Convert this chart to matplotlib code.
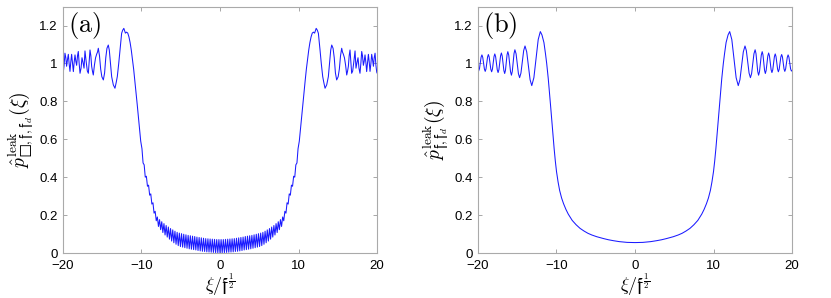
import numpy as np
from matplotlib import pyplot as plt

plt.rcParams['mathtext.fontset'] = 'cm'
plt.rcParams['font.family'] = ['Liberation Sans', 'DejaVu Sans']

# ---- panel (a): left half (curve is symmetric) ----
a_edge_x = [-20.0, -19.96, -19.86, -19.75, -19.64, -19.54, -19.43, -19.32, -19.22,
            -19.11, -19.0, -18.9, -18.79, -18.68, -18.58, -18.47, -18.36, -18.26,
            -18.15, -18.05, -17.94, -17.83, -17.7, -17.58, -17.45, -17.32, -17.26,
            -17.2, -17.05, -16.9, -16.77, -16.66, -16.56, -16.45, -16.35, -16.25,
            -16.14, -16.0, -15.85, -15.7, -15.6, -15.5, -15.35, -15.2, -15.05,
            -14.86, -14.7, -14.55, -14.4, -14.23, -14.1, -13.95, -13.8, -13.59,
            -13.38, -13.22, -13.08,
            -12.9, -12.74, -12.65, -12.53, -12.4, -12.25, -12.05, -11.9, -11.75,
            -11.6, -11.45, -11.3, -11.15, -11.0, -10.85, -10.7, -10.55, -10.4,
            -10.25, -10.1, -9.94, -9.80, -9.66, -9.52, -9.38, -9.24, -9.10, -8.96,
            -8.82, -8.68, -8.54, -8.40, -8.26, -8.12]
a_edge_y = [0.950, 0.955, 0.990, 1.054, 1.030, 0.985, 1.020, 1.048, 1.000,
            0.958, 1.010, 1.048, 1.000, 0.957, 1.005, 1.045, 1.010, 0.990,
            1.040, 1.063, 1.000, 0.948, 0.975, 1.030, 1.005, 0.975, 1.020,
            1.066, 1.010, 0.960, 0.948, 1.010, 1.071, 1.040, 0.985, 0.960,
            0.939, 0.990, 1.030, 1.050, 1.060, 1.080, 1.040, 0.970, 0.930,
            0.913, 0.950, 1.030, 1.080, 1.097, 1.070, 1.000, 0.930, 0.887,
            0.869, 0.900, 0.931,
            1.0, 1.071, 1.11, 1.159, 1.175, 1.185, 1.16, 1.165, 1.16,
            1.14, 1.11, 1.07, 1.02, 0.97, 0.91, 0.85, 0.785, 0.72,
            0.655, 0.59, 0.55, 0.475, 0.465, 0.40, 0.405, 0.352, 0.358, 0.305,
            0.312, 0.258, 0.265, 0.21, 0.22, 0.17]
# fast ripple in the trough, centre outwards (minimum at 0)
ripple_step = 0.28
trough_lo = [0.001, 0.001, 0.002, 0.003, 0.004, 0.005, 0.006, 0.008, 0.009, 0.011,
             0.013, 0.016, 0.018, 0.020, 0.022, 0.025, 0.028, 0.031, 0.034, 0.039,
             0.046, 0.054, 0.063, 0.073, 0.084, 0.095, 0.108, 0.123, 0.140]
trough_hi = [0.071, 0.071, 0.072, 0.073, 0.074, 0.075, 0.076, 0.078, 0.080, 0.082,
             0.084, 0.087, 0.089, 0.091, 0.093, 0.096, 0.099, 0.102, 0.105, 0.109,
             0.115, 0.122, 0.129, 0.137, 0.145, 0.155, 0.165, 0.176, 0.190]

# ---- panel (b): left half ----
b_x = [-20.0, -19.92, -19.815, -19.71, -19.605, -19.5, -19.395, -19.29, -19.185,
       -19.08, -18.98, -18.88, -18.78, -18.68, -18.575, -18.47, -18.365,
       -18.26, -18.16, -18.06, -17.96, -17.86, -17.755, -17.65, -17.545,
       -17.44, -17.335, -17.23, -17.125, -17.02, -16.915, -16.81, -16.705,
       -16.6, -16.5, -16.4, -16.3, -16.2, -16.085, -15.97, -15.855,
       -15.74, -15.63, -15.52, -15.41, -15.3, -15.15, -15.0, -14.85,
       -14.7, -14.53, -14.355, -14.18, -14.01, -13.795, -13.58, -13.365,
       -13.15, -12.88, -12.605, -12.33, -12.06, -11.85, -11.6, -11.4,
       -11.25, -11.05, -10.9, -10.75, -10.6, -10.45, -10.3, -10.15, -10.0,
       -9.8, -9.6, -9.35, -9.1, -8.8, -8.5, -8.0, -7.5, -7.0, -6.5, -6.0,
       -5.5, -4.88, -4.0, -3.4, -2.76, -2.0, -1.0, 0.0]
b_y = [0.962, 0.960, 0.972, 1.003, 1.033, 1.045, 1.032, 1.002, 0.971,
       0.958, 0.971, 1.003, 1.034, 1.047, 1.034, 1.002, 0.969,
       0.956, 0.970, 1.003, 1.036, 1.050, 1.036, 1.001, 0.966,
       0.952, 0.967, 1.004, 1.040, 1.055, 1.039, 1.001, 0.963,
       0.947, 0.964, 1.005, 1.045, 1.062, 1.044, 1.000, 0.956,
       0.938, 0.958, 1.005, 1.052, 1.072, 1.051, 0.999, 0.946,
       0.925, 0.949, 1.009, 1.068, 1.092, 1.061, 0.988, 0.914,
       0.883, 0.925, 1.026, 1.126, 1.168, 1.150, 1.110, 1.050,
       1.0, 0.92, 0.85, 0.775, 0.70, 0.625, 0.55, 0.485, 0.43,
       0.375, 0.33, 0.29, 0.26, 0.23, 0.205, 0.172, 0.149, 0.13, 0.116, 0.104,
       0.095, 0.086, 0.076, 0.070, 0.065, 0.060, 0.056, 0.055]

xticks = [-20, -10, 0, 10, 20]
yticks = [0, 0.2, 0.4, 0.6, 0.8, 1, 1.2]
ytick_labels = ['0', '0.2', '0.4', '0.6', '0.8', '1', '1.2']


def mirror(x, y):
    x = np.asarray(x, float)
    y = np.asarray(y, float)
    return np.concatenate([x, -x[::-1][1:]]), np.concatenate([y, y[::-1][1:]])


# assemble left half of (a): edge part then the ripple, centre last
k = np.arange(len(trough_lo))[::-1]
tr_x, tr_y = [], []
for i in k:
    tr_x += [-(i * ripple_step + ripple_step / 2), -i * ripple_step]
    tr_y += [trough_hi[i], trough_lo[i]]
xa, ya = mirror(a_edge_x + tr_x, a_edge_y + tr_y)
xb, yb = mirror(b_x, b_y)

fig = plt.figure(figsize=(8.31, 2.98), dpi=100)
ax_a = fig.add_axes([0.0758, 0.151, 0.3779, 0.827])
ax_b = fig.add_axes([0.5752, 0.151, 0.3779, 0.827])

labels = [r'$\hat{p}^{\rm leak}_{□,\mathfrak{f},\mathfrak{f}_d}(\xi)$',
          r'$\hat{p}^{\rm leak}_{\mathfrak{f},\mathfrak{f}_d}(\xi)$']
for ax, (x, y), tag, lab in zip([ax_a, ax_b], [(xa, ya), (xb, yb)],
                                ['(a)', '(b)'], labels):
    ax.plot(x, y, color='#1a1aff', lw=0.75)
    ax.set_xlim(-20, 20)
    ax.set_ylim(0, 1.3)
    ax.set_xticks(xticks)
    ax.set_yticks(yticks)
    ax.set_yticklabels(ytick_labels)
    ax.tick_params(direction='in', top=True, right=True, length=3,
                   width=0.6, color='#999999', labelsize=9.5)
    ax.tick_params(axis='x', pad=5)
    ax.tick_params(axis='y', pad=4)
    for s in ax.spines.values():
        s.set_color('#aaaaaa')
        s.set_linewidth(0.8)
    ax.set_xlabel(r'$\xi/\mathfrak{f}^{\frac{1}{2}}$', fontsize=13, labelpad=0)
    ax.set_ylabel(lab, fontsize=14, labelpad=2)
    ax.text(0.015, 0.985, r'$(\mathrm{%s})$' % tag[1], transform=ax.transAxes,
            fontsize=19, va='top', ha='left')

fig.savefig('out.png', dpi=100)
